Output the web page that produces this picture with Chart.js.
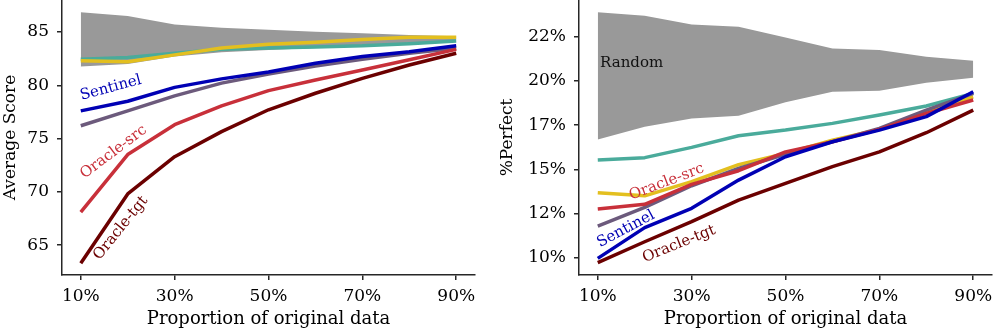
<!DOCTYPE html>
<html>
<head>
<meta charset="utf-8">
<script src="https://cdn.jsdelivr.net/npm/chart.js@4.4.0/dist/chart.umd.min.js"></script>
<style>
  body { margin: 0; background: #fff; }
  #left { position: absolute; left: 0; top: 0; }
  #right { position: absolute; left: 490px; top: 0; }
</style>
</head>
<body>
<canvas id="left" width="490" height="332"></canvas>
<canvas id="right" width="507" height="332"></canvas>
<script>
// x values: proportion of original data (%)
const props = [10, 20, 30, 40, 50, 60, 70, 80, 90];
const xTicks = [10, 30, 50, 70, 90];

// left panel: average score
const scoreTicks = [65, 70, 75, 80, 85];
const scoreRandLo = [81.75, 82.0, 82.7, 83.1, 83.3, 83.5, 83.7, 84.0, 84.25];
const scoreRandHi = [86.85, 86.5, 85.7, 85.4, 85.2, 85.03, 84.88, 84.72, 84.6];
const scoreTeal = [82.44, 82.6, 83.0, 83.38, 83.5, 83.6, 83.7, 83.9, 84.15];
const scoreYellow = [82.3, 82.2, 82.85, 83.5, 83.85, 84.03, 84.3, 84.5, 84.5];
const scorePurple = [76.2, 77.6, 79.0, 80.2, 81.06, 81.8, 82.44, 83.0, 83.47];
const scoreSentinel = [77.6, 78.5, 79.8, 80.6, 81.25, 82.06, 82.7, 83.15, 83.7];
const scoreOracleSrc = [68.1, 73.5, 76.3, 78.06, 79.5, 80.5, 81.44, 82.4, 83.37];
const scoreOracleTgt = [63.3, 69.8, 73.3, 75.65, 77.7, 79.25, 80.65, 81.9, 83.0];

// right panel: % perfect
const perfTicks = [10, 12.5, 15, 17.5, 20, 22.5];
const perfRandLo = [16.69, 17.41, 17.88, 18.03, 18.8, 19.39, 19.45, 19.9, 20.18];
const perfRandHi = [23.88, 23.69, 23.2, 23.07, 22.46, 21.84, 21.75, 21.37, 21.14];
const perfTeal = [15.52, 15.66, 16.24, 16.9, 17.22, 17.6, 18.07, 18.58, 19.3];
const perfYellow = [13.68, 13.5, 14.3, 15.26, 15.9, 16.65, 17.26, 18.26, 19.1];
const perfPurple = [11.79, 12.85, 14.07, 15.05, 15.85, 16.56, 17.32, 18.35, 19.3];
const perfSentinel = [9.96, 11.7, 12.79, 14.39, 15.71, 16.56, 17.22, 17.98, 19.39];
const perfOracleSrc = [12.75, 13.02, 14.15, 14.92, 15.98, 16.56, 17.26, 18.16, 18.92];
const perfOracleTgt = [9.72, 10.9, 12.04, 13.26, 14.2, 15.15, 15.99, 17.07, 18.35];

const GRAY = '#999999';
const TEAL = '#4aab9b';
const YELLOW = '#e3bf1f';
const PURPLE = '#6c5a7c';
const BLUE = '#0000b4';
const RED = '#c8303a';
const DARKRED = '#6b0000';
const AXIS = '#262626';

Chart.defaults.font.family = "'DejaVu Serif', serif";
Chart.defaults.color = '#000';

function pts(ys) {
    return props.map((x, i) => ({ x: x, y: ys[i] }));
}

function line(ys, color, order) {
    return {
        data: pts(ys),
        borderColor: color,
        borderWidth: 3.5,
        pointRadius: 0,
        fill: false,
        tension: 0,
        borderJoinStyle: 'round',
        order: order
    };
}

function band(lo, hi) {
    return [
        { data: pts(lo), borderWidth: 0, pointRadius: 0, fill: false, order: 20 },
        { data: pts(hi), borderWidth: 0, pointRadius: 0, fill: '-1', backgroundColor: GRAY, order: 20 }
    ];
}

// draws the in-plot text labels
const notes = {
    id: 'notes',
    afterDatasetsDraw(chart, args, opts) {
        const ctx = chart.ctx;
        const xs = chart.scales.x, ys = chart.scales.y;
        ctx.save();
        ctx.font = '15px "DejaVu Serif"';
        ctx.textBaseline = 'middle';
        opts.items.forEach(n => {
            ctx.save();
            ctx.translate(xs.getPixelForValue(n.x), ys.getPixelForValue(n.y));
            ctx.rotate(-n.angle * Math.PI / 180);
            ctx.textAlign = n.align || 'center';
            ctx.fillStyle = n.color;
            ctx.fillText(n.text, 0, 0);
            ctx.restore();
        });
        ctx.restore();
    }
};

function options(yMin, yMax, yTickVals, yTitle, yFmt, yWidth, titlePad, padRight, items) {
    return {
        responsive: false,
        animation: false,
        layout: { padding: { top: 0, right: padRight, left: 0, bottom: 0 } },
        plugins: {
            legend: { display: false },
            tooltip: { enabled: false },
            notes: { items: items }
        },
        scales: {
            x: {
                type: 'linear',
                min: 6,
                max: 94,
                afterBuildTicks: (s) => { s.ticks = xTicks.map(v => ({ value: v })); },
                afterFit: (s) => { s.height = 57; s.paddingLeft = 0; s.paddingRight = 0; },
                ticks: { callback: v => v + '%', font: { size: 17 }, padding: 6, maxRotation: 0, autoSkip: false },
                grid: { display: true, drawOnChartArea: false, drawTicks: true, tickLength: 5, color: AXIS, lineWidth: 1.5 },
                border: { display: true, color: AXIS, width: 1.5 },
                title: { display: true, text: 'Proportion of original data', font: { size: 18 }, padding: { top: 0, bottom: 2 } }
            },
            y: {
                type: 'linear',
                min: yMin,
                max: yMax,
                afterBuildTicks: (s) => { s.ticks = yTickVals.map(v => ({ value: v })); },
                afterFit: (s) => { s.width = yWidth; s.paddingTop = 0; s.paddingBottom = 0; },
                ticks: { callback: yFmt, font: { size: 17 }, padding: 8, autoSkip: false },
                grid: { display: true, drawOnChartArea: false, drawTicks: true, tickLength: 5, color: AXIS, lineWidth: 1.5 },
                border: { display: true, color: AXIS, width: 1.5 },
                title: { display: true, text: yTitle, font: { size: 17 }, padding: { top: titlePad, bottom: 4 } }
            }
        }
    };
}

const leftNotes = [
    { text: 'Sentinel', x: 16.4, y: 79.75, angle: 15, color: BLUE },
    { text: 'Oracle-src', x: 17.0, y: 73.74, angle: 37, color: RED },
    { text: 'Oracle-tgt', x: 18.5, y: 66.6, angle: 51, color: DARKRED }
];

const rightNotes = [
    { text: 'Random', x: 10.5, y: 21.01, angle: 0, color: '#111', align: 'left' },
    { text: 'Oracle-src', x: 24.7, y: 14.28, angle: 21, color: RED },
    { text: 'Sentinel', x: 16.0, y: 11.62, angle: 28, color: BLUE },
    { text: 'Oracle-tgt', x: 27.3, y: 10.77, angle: 22, color: DARKRED }
];

new Chart(document.getElementById('left'), {
    type: 'line',
    data: {
        datasets: band(scoreRandLo, scoreRandHi).concat([
            line(scoreTeal, TEAL, 7),
            line(scoreYellow, YELLOW, 6),
            line(scorePurple, PURPLE, 5),
            line(scoreSentinel, BLUE, 4),
            line(scoreOracleSrc, RED, 3),
            line(scoreOracleTgt, DARKRED, 2)
        ])
    },
    options: options(62.2, 88.0, scoreTicks, 'Average Score', v => String(v), 62, 0, 15, leftNotes),
    plugins: [notes]
});

new Chart(document.getElementById('right'), {
    type: 'line',
    data: {
        datasets: band(perfRandLo, perfRandHi).concat([
            line(perfTeal, TEAL, 7),
            line(perfYellow, YELLOW, 6),
            line(perfPurple, PURPLE, 5),
            line(perfSentinel, BLUE, 3),
            line(perfOracleSrc, RED, 4),
            line(perfOracleTgt, DARKRED, 2)
        ])
    },
    options: options(9.02, 24.58, perfTicks, '%Perfect', v => Math.floor(v) + '%', 89, 7, 5, rightNotes),
    plugins: [notes]
});
</script>
</body>
</html>
